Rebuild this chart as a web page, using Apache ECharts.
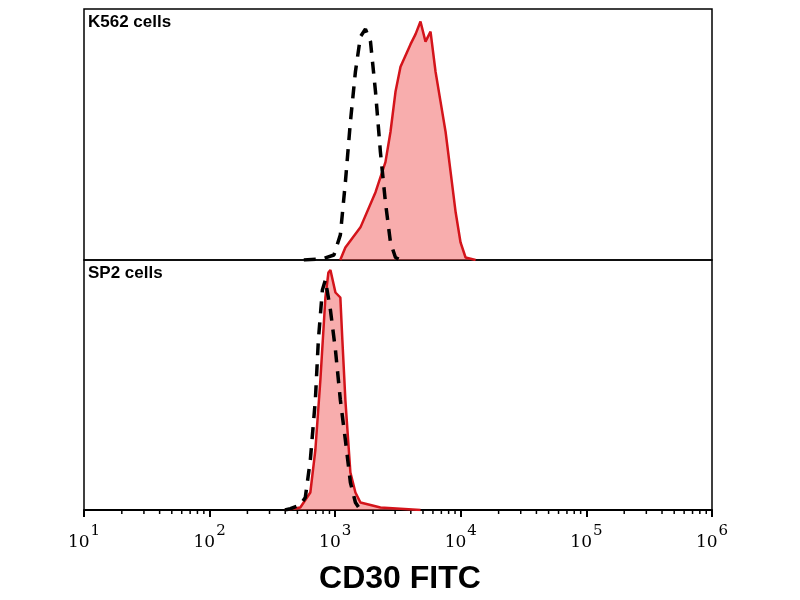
<!DOCTYPE html>
<html><head><meta charset="utf-8">
<script src="https://cdn.jsdelivr.net/npm/echarts@6/dist/echarts.min.js"></script>
<style>html,body{margin:0;background:#fff}#c{width:800px;height:600px}</style>
</head><body><div id="c"></div>
<script>
// x values are log10(FITC intensity), y values are % of mode
const k562Stained = [[3.04,0],[3.081,5],[3.201,13],[3.321,27],[3.400,39],[3.440,51],[3.480,67],[3.520,77],[3.600,86],[3.640,90],[3.679,95],[3.719,87],[3.759,91],[3.799,75],[3.839,63],[3.879,51],[3.919,35],[3.959,19],[3.998,7],[4.038,1],[4.118,0]];
const k562Control = [[2.75,0],[2.90,0.5],[2.99,2],[3.041,10],[3.081,31],[3.121,55],[3.161,75],[3.201,89],[3.241,92],[3.281,87],[3.321,67],[3.360,43],[3.400,23],[3.440,7],[3.480,1],[3.52,0]];
const sp2Stained = [[2.60,0],[2.722,1],[2.802,7],[2.842,24],[2.882,52],[2.922,85],[2.946,95],[2.962,96],[3.002,87],[3.041,85],[3.057,68],[3.081,44],[3.121,15],[3.161,7],[3.201,3],[3.281,2],[3.360,1],[3.679,0]];
const sp2Control = [[2.60,0],[2.643,0.5],[2.722,2],[2.762,5],[2.802,20],[2.842,44],[2.866,68],[2.898,88],[2.922,92],[2.962,80],[3.002,64],[3.041,44],[3.081,28],[3.121,11],[3.161,3],[3.201,0]];
const decades = [1, 2, 3, 4, 5, 6];
const minorTicks = [];
decades.slice(0, 5).forEach(d => { for (let m = 2; m <= 9; m++) minorTicks.push(d + Math.log10(m)); });

const chart = echarts.init(document.getElementById('c'));
const left = 84, width = 628;
function xAx(i, show) {
  return {
    type: 'value', gridIndex: i, min: 1, max: 6, interval: 1,
    axisLine: { show: show, lineStyle: { color: '#000', width: 2 } },
    axisTick: { show: show, length: 7, inside: false, lineStyle: { color: '#000', width: 2 } },
    splitLine: { show: false },
    axisLabel: {
      show: show, margin: 14,
      formatter: v => '{b|10}{s|' + v + '}',
      rich: { b: { fontFamily: 'DejaVu Serif', fontSize: 17, color: '#000', padding: [10, 0, 0, 0] },
              s: { fontFamily: 'DejaVu Serif', fontSize: 15, color: '#000', verticalAlign: 'top', padding: [0, 0, 10, 1] } }
    }
  };
}
function yAx(i) {
  return { type: 'value', gridIndex: i, min: 0, max: 100, show: false };
}
const red = { type: 'line', symbol: 'none', lineStyle: { color: '#d4141b', width: 2.5 }, areaStyle: { color: 'rgba(242,92,92,0.72)' }, z: 2 };
const dash = { type: 'line', symbol: 'none', lineStyle: { color: '#000', width: 3.5, type: [12, 9] }, z: 3 };
chart.setOption({
  animation: false,
  grid: [
    { left: left, width: width, top: 9, height: 251, show: true, borderColor: '#000', borderWidth: 1.5 },
    { left: left, width: width, top: 260, height: 250, show: true, borderColor: '#000', borderWidth: 1.5 }
  ],
  xAxis: [xAx(0, false), xAx(1, true)],
  yAxis: [yAx(0), yAx(1)],
  graphic: [
    { type: 'text', left: 88, top: 14, style: { text: 'K562 cells', font: 'bold 17px Arial', fill: '#000' } },
    { type: 'text', left: 88, top: 265, style: { text: 'SP2 cells', font: 'bold 17px Arial', fill: '#000' } },
    { type: 'text', left: 'center', top: 563, style: { text: 'CD30 FITC', font: 'bold 32px Arial', fill: '#000' } }
  ],
  series: [
    Object.assign({}, red, { xAxisIndex: 0, yAxisIndex: 0, data: k562Stained }),
    Object.assign({}, dash, { xAxisIndex: 0, yAxisIndex: 0, data: k562Control }),
    Object.assign({}, red, { xAxisIndex: 1, yAxisIndex: 1, data: sp2Stained }),
    Object.assign({}, dash, { xAxisIndex: 1, yAxisIndex: 1, data: sp2Control }),
    {
      type: 'custom', xAxisIndex: 1, yAxisIndex: 1, data: minorTicks.map(v => [v, 0]), silent: true,
      renderItem: (p, api) => {
        const pt = api.coord([api.value(0), 0]);
        return { type: 'line', shape: { x1: pt[0], y1: pt[1], x2: pt[0], y2: pt[1] + 4 }, style: { stroke: '#000', lineWidth: 1.5 } };
      }
    }
  ]
});
</script></body></html>
